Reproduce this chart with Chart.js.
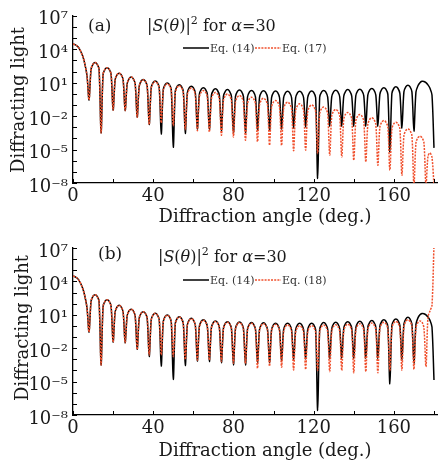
<!DOCTYPE html>
<html>
<head>
<meta charset="utf-8">
<script src="https://cdn.jsdelivr.net/npm/chart.js@4.4.0/dist/chart.umd.min.js"></script>
<style>
  html, body { margin: 0; padding: 0; background: #fff; }
  #wrap { position: relative; width: 438px; height: 463px; overflow: hidden; }
  #wrap canvas { position: absolute; left: 0; }
  #chartA { top: 0; }
  #chartB { top: 225px; }
</style>
</head>
<body>
<div id="wrap">
  <canvas id="chartA" width="438" height="235"></canvas>
  <canvas id="chartB" width="438" height="238"></canvas>
</div>
<script>
// sample angles (deg.)
const angles = Array.from({ length: 181 }, (_, i) => i);

// log10 of |S|^2, one value per degree
const eq14Exp = [
  4.47, 4.42, 4.3, 4.1, 3.75, 3.3, 2.6, 1.6,
  -0.55, 2.2, 2.67, 2.8, 2.67, 2.2,
  -3.5, 1.75, 2.22, 2.35, 2.22, 1.75,
  -1.45, 1.25, 1.72, 1.85, 1.72, 1.25,
  -1.5, 0.9, 1.37, 1.5, 1.37, 0.9,
  -2.1, 0.68, 1.15, 1.28, 1.15, 0.68,
  -2.75, 0.55, 1.02, 1.15, 1.02, 0.55,
  -3.6, 0.38, 0.85, 0.98, 0.85, 0.38,
  -4.8, 0.22, 0.69, 0.82, 0.69, 0.22,
  -3.55, 0.08, 0.55, 0.68, 0.55, 0.08,
  -3.15, -0.05, 0.42, 0.55, 0.42, -0.05,
  -3.2, -0.15, 0.32, 0.45, 0.32, -0.15,
  -3.3, -0.22, 0.25, 0.38, 0.25, -0.22,
  -3.5, -0.25, 0.22, 0.35, 0.22, -0.25,
  -3.5, -0.3, 0.17, 0.3, 0.17, -0.3,
  -3.3, -0.32, 0.15, 0.28, 0.15, -0.32,
  -3.3, -0.35, 0.12, 0.25, 0.12, -0.35,
  -3.2, -0.36, 0.11, 0.24, 0.11, -0.36,
  -3.1, -0.36, 0.11, 0.24, 0.11, -0.36,
  -3.0, -0.35, 0.12, 0.25, 0.12, -0.35,
  -7.6, -0.3, 0.17, 0.3, 0.17, -0.3,
  -2.9, -0.27, 0.2, 0.33, 0.2, -0.27,
  -2.9, -0.22, 0.25, 0.38, 0.25, -0.22,
  -2.9, -0.18, 0.29, 0.42, 0.29, -0.18,
  -2.9, -0.12, 0.35, 0.48, 0.35, -0.12,
  -2.9, -0.05, 0.42, 0.55, 0.42, -0.05,
  -5.2, 0.03, 0.5, 0.63, 0.5, 0.03,
  -3.06, 0.17, 0.64, 0.77, 0.64, 0.17,
  -3.36, 0.15, 0.72, 1.0, 1.12, 1.1, 1.0, 0.8, 0.5, -0.1,
  -4.85
];

const eq17Exp = [
  4.47, 4.42, 4.3, 4.1, 3.75, 3.3, 2.6, 1.6,
  -0.55, 2.2, 2.67, 2.8, 2.67, 2.2,
  -3.5, 1.75, 2.22, 2.35, 2.22, 1.75,
  -1.45, 1.25, 1.72, 1.85, 1.72, 1.25,
  -1.5, 0.9, 1.37, 1.5, 1.37, 0.9,
  -2.1, 0.66, 1.13, 1.26, 1.13, 0.66,
  -2.75, 0.5, 0.97, 1.1, 0.97, 0.5,
  -2.6, 0.3, 0.77, 0.9, 0.77, 0.3,
  -2.85, 0.12, 0.59, 0.72, 0.59, 0.12,
  -3.2, -0.08, 0.39, 0.52, 0.39, -0.08,
  -3.3, -0.3, 0.17, 0.3, 0.17, -0.3,
  -3.42, -0.48, -0.01, 0.12, -0.01, -0.48,
  -3.71, -0.62, -0.15, -0.02, -0.15, -0.62,
  -3.87, -0.75, -0.28, -0.15, -0.28, -0.75,
  -4.16, -0.9, -0.43, -0.3, -0.43, -0.9,
  -4.3, -1.0, -0.53, -0.4, -0.53, -1.0,
  -4.6, -1.2, -0.73, -0.6, -0.73, -1.2,
  -4.63, -1.35, -0.88, -0.75, -0.88, -1.35,
  -5.1, -1.5, -1.03, -0.9, -1.03, -1.5,
  -5.05, -1.6, -1.13, -1.0, -1.13, -1.6,
  -5.35, -1.78, -1.31, -1.18, -1.31, -1.78,
  -5.5, -2.0, -1.53, -1.4, -1.53, -2.0,
  -5.65, -2.27, -1.8, -1.67, -1.8, -2.27,
  -5.95, -2.45, -1.98, -1.85, -1.98, -2.45,
  -6.1, -2.75, -2.28, -2.15, -2.28, -2.75,
  -6.4, -3.0, -2.53, -2.4, -2.53, -3.0,
  -6.85, -3.15, -2.68, -2.55, -2.68, -3.15,
  -7.3, -3.75, -3.28, -3.15, -3.28, -3.75,
  -8.2, -4.4, -3.93, -3.8, -3.93, -4.4,
  -8.2, -5.6, -5.3, -5.7,
  -8.2
];

const eq18Exp = [
  4.47, 4.42, 4.3, 4.1, 3.75, 3.3, 2.6, 1.6,
  -0.55, 2.2, 2.67, 2.8, 2.67, 2.2,
  -3.5, 1.75, 2.22, 2.35, 2.22, 1.75,
  -1.45, 1.25, 1.72, 1.85, 1.72, 1.25,
  -1.5, 0.9, 1.37, 1.5, 1.37, 0.9,
  -2.1, 0.68, 1.15, 1.28, 1.15, 0.68,
  -2.6, 0.53, 1.0, 1.13, 1.0, 0.53,
  -2.6, 0.36, 0.83, 0.96, 0.83, 0.36,
  -2.75, 0.2, 0.67, 0.8, 0.67, 0.2,
  -3.0, 0.05, 0.52, 0.65, 0.52, 0.05,
  -3.06, -0.1, 0.37, 0.5, 0.37, -0.1,
  -3.06, -0.2, 0.27, 0.4, 0.27, -0.2,
  -3.2, -0.27, 0.2, 0.33, 0.2, -0.27,
  -3.36, -0.3, 0.17, 0.3, 0.17, -0.3,
  -3.4, -0.35, 0.12, 0.25, 0.12, -0.35,
  -3.8, -0.4, 0.07, 0.2, 0.07, -0.4,
  -3.6, -0.45, 0.02, 0.15, 0.02, -0.45,
  -3.7, -0.5, -0.03, 0.1, -0.03, -0.5,
  -3.95, -0.58, -0.11, 0.02, -0.11, -0.58,
  -3.9, -0.57, -0.1, 0.03, -0.1, -0.57,
  -4.0, -0.52, -0.05, 0.08, -0.05, -0.52,
  -4.1, -0.49, -0.02, 0.11, -0.02, -0.49,
  -4.0, -0.44, 0.03, 0.16, 0.03, -0.44,
  -4.2, -0.4, 0.07, 0.2, 0.07, -0.4,
  -4.1, -0.34, 0.13, 0.26, 0.13, -0.34,
  -4.2, -0.27, 0.2, 0.33, 0.2, -0.27,
  -4.0, -0.19, 0.28, 0.41, 0.28, -0.19,
  -3.96, -0.05, 0.42, 0.55, 0.42, -0.05,
  -3.9, -0.15, 0.3, 0.45, 0.35, -0.2,
  -3.66, 0.8, 1.35, 1.85,
  7.3
];

const xTickValues = [0, 20, 40, 60, 80, 100, 120, 140, 160, 180];
const xTickLabels = ["0", "", "40", "", "80", "", "120", "", "160", ""];
const yTickValues = [1e-8, 1e-7, 1e-6, 1e-5, 1e-4, 1e-3, 1e-2, 1e-1, 1, 1e1, 1e2, 1e3, 1e4, 1e5, 1e6, 1e7];
const yTickLabels = ["10⁻⁸", "", "", "10⁻⁵", "", "", "10⁻²", "", "", "10¹", "", "", "10⁴", "", "", "10⁷"];

const SERIF = '"DejaVu Serif", "Liberation Serif", serif';
const RED = "#f0502d";
Chart.defaults.font.family = SERIF;
Chart.defaults.color = "#1a1a1a";

function toPoints(exps) {
  return angles.map((a, i) => ({ x: a, y: Math.pow(10, exps[i]) }));
}

function drawRuns(ctx, x, y, runs) {
  ctx.textBaseline = "alphabetic";
  ctx.textAlign = "left";
  for (const r of runs) {
    ctx.font = r.font;
    ctx.fillText(r.t, x, y + (r.dy || 0));
    x += ctx.measureText(r.t).width;
  }
}

// inward ticks, panel tag, title, legend and axis titles
const decorations = {
  id: "decorations",
  afterDraw(chart, args, o) {
    const { ctx, chartArea, scales } = chart;
    ctx.save();
    ctx.strokeStyle = "#000";
    ctx.lineWidth = 1;
    ctx.beginPath();
    scales.x.ticks.forEach(t => {
      const px = Math.round(scales.x.getPixelForValue(t.value)) + 0.5;
      ctx.moveTo(px, chartArea.bottom);
      ctx.lineTo(px, chartArea.bottom - 4);
    });
    scales.y.ticks.forEach(t => {
      const py = Math.round(scales.y.getPixelForValue(t.value)) + 0.5;
      ctx.moveTo(chartArea.left, py);
      ctx.lineTo(chartArea.left + 4, py);
    });
    ctx.stroke();

    ctx.fillStyle = "#1a1a1a";
    drawRuns(ctx, o.panelX, o.panelY, [{ t: o.panel, font: "17px " + SERIF }]);
    drawRuns(ctx, o.titleX, o.titleY, [
      { t: "|", font: "16px " + SERIF },
      { t: "S", font: "italic 16px " + SERIF },
      { t: "(", font: "16px " + SERIF },
      { t: "θ", font: "italic 16px " + SERIF },
      { t: ")|", font: "16px " + SERIF },
      { t: "2", font: "11px " + SERIF, dy: -7 },
      { t: " for ", font: "16px " + SERIF },
      { t: "α", font: "italic 16px " + SERIF },
      { t: "=30", font: "16px " + SERIF }
    ]);

    // legend
    const lx = o.legendX, ly = o.legendY;
    ctx.lineWidth = 1.5;
    ctx.strokeStyle = "#000";
    ctx.beginPath(); ctx.moveTo(lx, ly); ctx.lineTo(lx + 26, ly); ctx.stroke();
    ctx.fillStyle = "#333";
    drawRuns(ctx, lx + 27, ly + 4, [{ t: "Eq. (14)", font: "11px " + SERIF }]);
    ctx.strokeStyle = RED;
    ctx.setLineDash([2, 1.2]);
    ctx.beginPath(); ctx.moveTo(lx + 72, ly); ctx.lineTo(lx + 98, ly); ctx.stroke();
    ctx.setLineDash([]);
    drawRuns(ctx, lx + 99, ly + 4, [{ t: o.redLabel, font: "11px " + SERIF }]);

    // axis titles
    ctx.fillStyle = "#1a1a1a";
    ctx.font = "18px " + SERIF;
    ctx.textAlign = "center";
    ctx.textBaseline = "middle";
    ctx.fillText("Diffraction angle (deg.)", o.xTitleX, o.xTitleY);
    ctx.translate(o.yTitleX, o.yTitleY);
    ctx.rotate(-Math.PI / 2);
    ctx.fillText("Diffracting light", 0, 0);
    ctx.restore();
  }
};

function makeChart(el, redExp, redLabel, padTop, xHeight, deco) {
  return new Chart(el, {
    type: "line",
    data: {
      datasets: [{
        label: "Eq. (14)",
        data: toPoints(eq14Exp),
        borderColor: "#000",
        borderWidth: 1.5,
        pointRadius: 0,
        tension: 0.3,
        order: 2
      }, {
        label: redLabel,
        data: toPoints(redExp),
        borderColor: RED,
        borderWidth: 1.5,
        borderDash: [2, 1.2],
        pointRadius: 0,
        tension: 0.3,
        order: 1
      }]
    },
    options: {
      responsive: false,
      animation: false,
      devicePixelRatio: 1,
      layout: { padding: { top: padTop, left: 0, right: 0, bottom: 0 } },
      plugins: {
        legend: { display: false },
        tooltip: { enabled: false },
        decorations: Object.assign({ redLabel: redLabel }, deco)
      },
      scales: {
        x: {
          type: "linear",
          min: 0,
          max: 182,
          afterBuildTicks: s => { s.ticks = xTickValues.map(v => ({ value: v })); },
          afterFit: s => { s.height = xHeight; },
          grid: { display: false, drawTicks: false },
          border: { display: true, color: "#000", width: 1.3 },
          ticks: {
            autoSkip: false,
            maxRotation: 0,
            padding: 3,
            font: { size: 18 },
            callback: (v, i) => xTickLabels[i]
          }
        },
        y: {
          type: "logarithmic",
          min: 1e-8,
          max: 1e7,
          afterBuildTicks: s => { s.ticks = yTickValues.map(v => ({ value: v })); },
          afterFit: s => { s.width = 73; },
          grid: { display: false, drawTicks: false },
          border: { display: true, color: "#000", width: 1.3 },
          ticks: {
            autoSkip: false,
            padding: 5,
            labelOffset: 4,
            font: { size: 18 },
            callback: (v, i) => yTickLabels[i]
          }
        }
      }
    },
    plugins: [decorations]
  });
}

makeChart(document.getElementById("chartA"), eq17Exp, "Eq. (17)", 15, 52, {
  panel: "(a)", panelX: 88, panelY: 31,
  titleX: 147, titleY: 31,
  legendX: 183, legendY: 48,
  xTitleX: 265, xTitleY: 217,
  yTitleX: 19, yTitleY: 100
});

makeChart(document.getElementById("chartB"), eq18Exp, "Eq. (18)", 23, 48, {
  panel: "(b)", panelX: 98, panelY: 34,
  titleX: 158, titleY: 37,
  legendX: 183, legendY: 55,
  xTitleX: 265, xTitleY: 226,
  yTitleX: 23, yTitleY: 103
});
</script>
</body>
</html>
